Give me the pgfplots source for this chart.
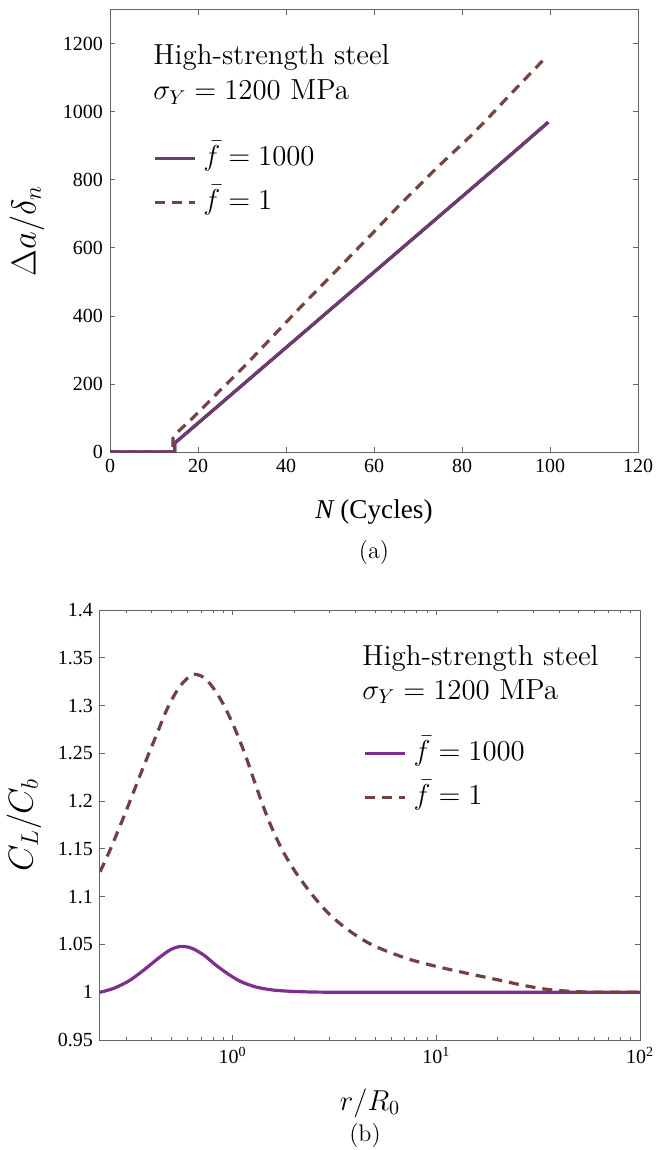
\documentclass[border=0pt]{standalone}
\usepackage{pgfplots}
\pgfplotsset{compat=1.18}
\usepackage{fontspec}
\newfontfamily\timesf{Liberation Serif}
\definecolor{topsolid}{RGB}{108,60,108}
\definecolor{topdash}{RGB}{118,66,66}
\definecolor{botsolid}{RGB}{126,47,142}
\definecolor{botdash}{RGB}{114,64,64}
\definecolor{axgray}{RGB}{100,100,100}
\pgfplotsset{
  common/.style={
    scale only axis,
    tick align=inside,
    axis line style={draw=axgray, line width=0.5pt},
    major tick style={draw=axgray, line width=0.5pt},
    minor tick style={draw=axgray, line width=0.4pt},
    major tick length=2.6pt,
    minor tick length=1.5pt,
    ticklabel style={font=\timesf\fontsize{10}{12}\selectfont, text=black},
    every axis plot/.append style={line width=1.6pt},
    legend cell align=left,
    legend image code/.code={\draw[##1] (0pt,0pt) -- (20pt,0pt);},
    legend style={draw=none, fill=none, inner sep=0pt, row sep=8pt,
      font=\fontsize{14.5}{17}\selectfont,
      nodes={inner sep=0pt, text height=10.5pt, text depth=3.5pt},
      /tikz/every odd column/.append style={column sep=3.5pt}},
  }
}
\begin{document}
\begin{tikzpicture}[x=1pt,y=1pt]
\path[use as bounding box] (0,0) rectangle (328,-575);
% ---------------- (a) ----------------
\begin{axis}[common,
  at={(55pt,-5pt)}, anchor=north west, width=264pt, height=221pt,
  xmin=0, xmax=120, ymin=0, ymax=1300,
  xtick={0,20,40,60,80,100,120}, xticklabels={0,20,40,60,80,100,120},
  ytick={0,200,400,600,800,1000,1200}, yticklabels={0,200,400,600,800,1000,1200},
  legend style={at={(rel axis cs:0.081,0.697)}, anchor=north west},
]
\addplot[topsolid, solid] coordinates {(0,0) (14.7,0) (14.7,26) (30,196) (50,418) (70,640) (90,862) (99.6,970)};
\addlegendentry{$\bar{f}=1000$}
\addplot[topdash, dash pattern=on 5pt off 3.5pt] coordinates {(0,0) (14.3,0) (14.3,40) (15.4,59) (18.8,100) (25,181) (31,258) (37,340) (43,422) (51,528) (59.5,641) (66,729) (73.9,831) (82,930) (86,983) (91,1052) (95,1106) (99,1160)};
\addlegendentry{$\bar{f}=1$}
\addplot[topsolid, solid, forget plot] coordinates {(0,0) (14.7,0) (14.7,26) (30,196) (50,418) (70,640) (90,862) (99.6,970)};
\end{axis}
\node[anchor=base west, inner sep=0pt, font=\fontsize{14.5}{17}\selectfont] at (76.5,-32.5) {High-strength steel};
\node[anchor=base west, inner sep=0pt, font=\fontsize{14.5}{17}\selectfont] at (76.5,-50) {$\sigma_Y = 1200$ MPa};
\node[rotate=90, font=\fontsize{18}{20}\selectfont] at (13.5,-115.5) {$\Delta a/\delta_n$};
\node[font=\timesf\fontsize{13.6}{16}\selectfont] at (187,-256) {{\itshape N} (Cycles)};
\node[font=\fontsize{12}{14}\selectfont] at (187,-276.5) {(a)};
% ---------------- (b) ----------------
\begin{axis}[common,
  at={(50pt,-305pt)}, anchor=north west, width=270pt, height=215pt,
  xmode=log, xmin=0.223, xmax=100, ymin=0.95, ymax=1.4,
  xtick={1,10,100}, xticklabels={10\textsuperscript{0},10\textsuperscript{1},10\textsuperscript{2}},
  minor xtick={0.3,0.4,0.5,0.6,0.7,0.8,0.9,2,3,4,5,6,7,8,9,20,30,40,50,60,70,80,90},
  ytick={0.95,1,1.05,1.1,1.15,1.2,1.25,1.3,1.35,1.4},
  yticklabels={0.95,1,1.05,1.1,1.15,1.2,1.25,1.3,1.35,1.4},
  legend style={at={(rel axis cs:0.487,0.70)}, anchor=north west},
]
\addplot[botsolid, solid, smooth] coordinates {(0.223,1.0) (0.26,1.004) (0.31,1.012) (0.37,1.024) (0.44,1.037) (0.50,1.045) (0.56,1.048) (0.63,1.046) (0.72,1.039) (0.82,1.029) (0.95,1.019) (1.1,1.011) (1.3,1.0055) (1.55,1.0025) (1.9,1.001) (2.5,1.0002) (3.5,1.0) (10,1.0) (100,1.0)};
\addlegendentry{$\bar{f}=1000$}
\addplot[botdash, dash pattern=on 5pt off 3.5pt, smooth] coordinates {(0.223,1.126) (0.25,1.149) (0.30,1.19) (0.36,1.233) (0.42,1.268) (0.48,1.298) (0.55,1.320) (0.63,1.332) (0.70,1.331) (0.78,1.322) (0.88,1.305) (1.0,1.281) (1.15,1.249) (1.3,1.216) (1.5,1.180) (1.75,1.149) (2.06,1.124) (2.5,1.100) (3.0,1.081) (3.7,1.065) (4.6,1.052) (5.7,1.043) (7.5,1.034) (10,1.027) (14,1.020) (20,1.013) (27,1.007) (35,1.003) (45,1.001) (60,1.0) (100,1.0)};
\addlegendentry{$\bar{f}=1$}
\end{axis}
\node[anchor=base west, inner sep=0pt, font=\fontsize{14.5}{17}\selectfont] at (181,-332.5) {High-strength steel};
\node[anchor=base west, inner sep=0pt, font=\fontsize{14.5}{17}\selectfont] at (181,-349.5) {$\sigma_Y = 1200$ MPa};
\node[rotate=90, font=\fontsize{18}{20}\selectfont] at (12,-412.5) {$C_L/C_b$};
\node[font=\fontsize{14}{16}\selectfont] at (185,-551.5) {$r/R_0$};
\node[font=\fontsize{12}{14}\selectfont] at (182.5,-567.5) {(b)};
\end{tikzpicture}
\end{document}
